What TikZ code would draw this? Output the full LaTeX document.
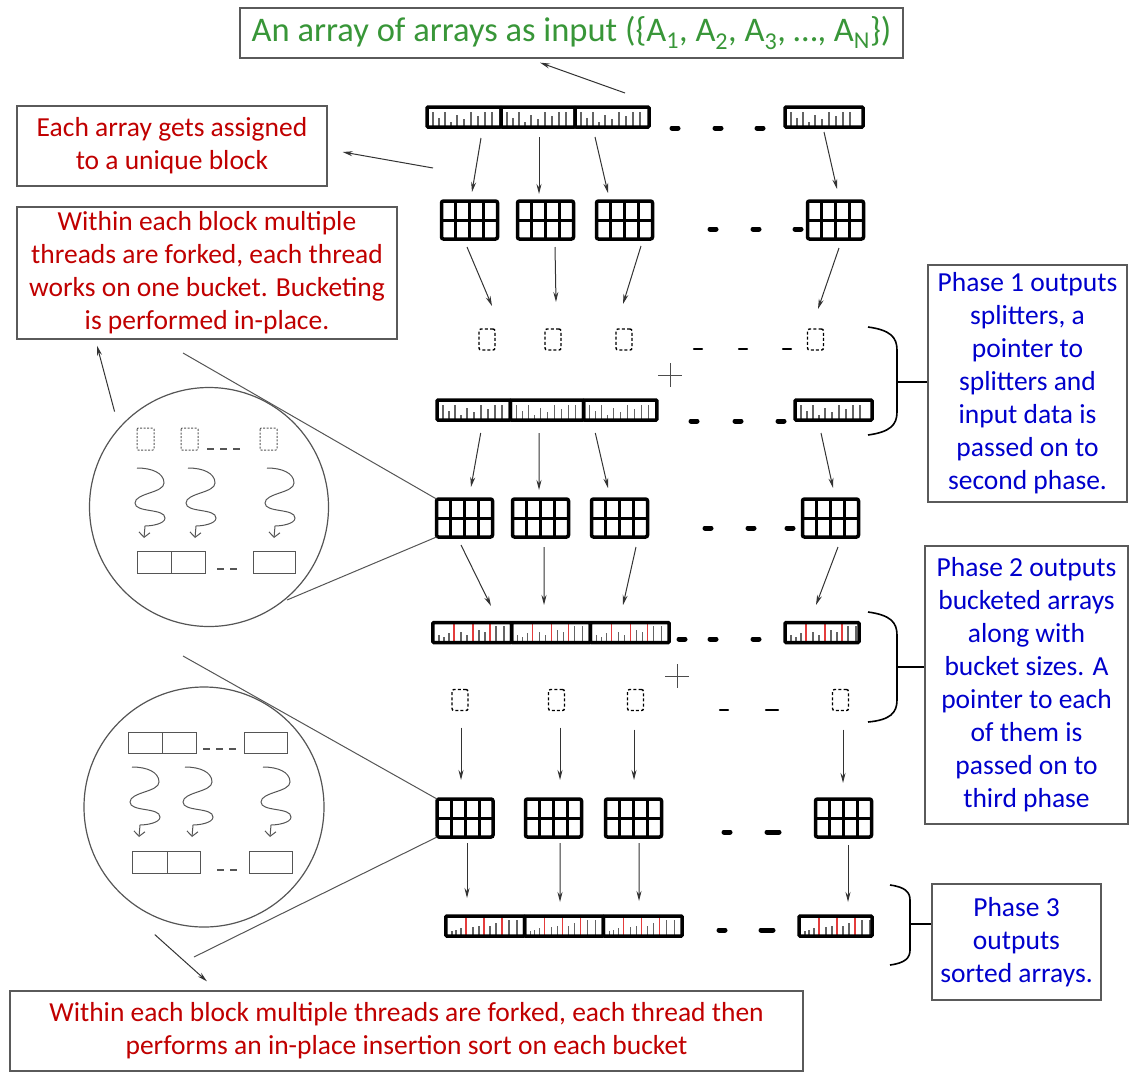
\documentclass[tikz,border=0pt]{standalone}
\usepackage{fontspec}
\setmainfont{Carlito}
\usepackage{xcolor}
\usetikzlibrary{positioning, calc, arrows.meta, shapes.geometric}

\definecolor{notered}{RGB}{192,0,0}
\definecolor{noteblue}{RGB}{0,0,204}
\definecolor{notegreen}{RGB}{56,150,56}
\definecolor{frame}{RGB}{90,90,90}
\definecolor{lensgray}{RGB}{85,85,85}
\definecolor{tickgray}{RGB}{100,100,100}
\definecolor{cutred}{RGB}{228,60,60}

\newcommand\notefont{\fontsize{27.5}{33}\selectfont}
\newcommand\titlefont{\fontsize{34.5}{40}\selectfont}

% tick lists: position/height/colour
\def\rawticks{6/15/tickgray, 12/9/tickgray, 18/15/tickgray, 24/5/tickgray, 30/12/tickgray, 37/8/tickgray, 44/15/tickgray, 51/11/tickgray, 58/15/tickgray, 65/15/tickgray}
\def\bktticks{6/8/tickgray, 11/6/tickgray, 16/10/tickgray, 21/22/cutred, 28/11/tickgray, 34/8/tickgray, 40/22/cutred, 46/13/tickgray, 52/11/tickgray, 57/22/cutred, 63/17/tickgray, 71/17/tickgray}
\def\srtticks{6/5/tickgray, 10/6/tickgray, 15/8/tickgray, 20/22/cutred, 27/9/tickgray, 33/10/tickgray, 38/22/cutred, 44/10/tickgray, 50/13/tickgray, 56/22/cutred, 63/16/tickgray, 71/16/tickgray}

% one thread: wavy arrow going down
\newcommand\wave[2]{\draw[wavy] (#1,#2) .. controls +(15,0) and +(0,-10) .. ++(27,15) .. controls +(0,10) and +(0,-10) .. ++(-29,20) .. controls +(0,10) and +(0,-10) .. ++(30,15) .. controls +(0,6) and +(6,0) .. ++(-20,8) -- ++(-1,12);}

\begin{document}
\begin{tikzpicture}
[x=1pt, y=-1pt,
 >={Stealth[length=10pt,width=5pt]},
 arr/.style={->, line width=1pt, draw=black!80},
 seg/.style={draw, line width=3.5pt, outer sep=0pt, inner sep=0pt,
   minimum height=20pt, rounded corners=1pt,
   path picture={\foreach \p/\h/\tc in #1
     {\draw[\tc, line width=1.2pt] ($(path picture bounding box.south west)+(\p,0)$) -- ++(0,-\h);}}},
 blk/.style={draw, line width=3.5pt, outer sep=0pt, inner sep=0pt,
   minimum width=56pt, minimum height=38pt, rounded corners=2pt,
   path picture={
     \foreach \f in {0.25,0.5,0.75}
       {\draw[line width=3pt] ($(path picture bounding box.south west)!\f!(path picture bounding box.south east)$) -- ($(path picture bounding box.north west)!\f!(path picture bounding box.north east)$);}
     \draw[line width=3pt] (path picture bounding box.west) -- (path picture bounding box.east);}},
 bkt/.style={draw, line width=1.4pt, dash pattern=on 3pt off 2.2pt, outer sep=0pt,
   minimum width=16pt, minimum height=21pt, inner sep=0pt, rounded corners=2pt},
 note/.style={draw=frame, line width=1.3pt, align=center, inner sep=0pt, font=\notefont},
 gapmark/.style={line width=5pt, line cap=round},
 thinmark/.style={line width=2.4pt, line cap=round},
 brace/.style={line width=1.6pt},
 lens/.style={draw=lensgray, line width=1.2pt, inner sep=0pt},
 zoomline/.style={draw=lensgray, line width=1pt},
 wavy/.style={draw=lensgray, line width=1pt, -{Straight Barb[length=5pt,width=11pt]}},
 cell/.style={draw=lensgray, line width=1pt},
 gapline/.style={draw=lensgray, line width=1.2pt, dash pattern=on 7pt off 6pt},
]
\useasboundingbox (0,0) rectangle (1130,1072);

% text boxes
\node[note, text=notegreen, font=\titlefont, minimum width=663, minimum height=50] (title) at (571.5,33)
  {An array of arrays as input (\{A\textsubscript{1}, A\textsubscript{2}, A\textsubscript{3}, …, A\textsubscript{N}\})};
\node[note, text=notered, minimum width=310, minimum height=80] (red1) at (172,146)
  {Each array gets assigned\\to a unique block};
\node[note, text=notered, minimum width=380, minimum height=132] (red2) at (207,273)
  {Within each block multiple\\threads are forked, each thread\\works on one bucket. Bucketing\\is performed in-place.};
\node[note, text=noteblue, minimum width=199, minimum height=237] (p1) at (1027.5,383.5)
  {Phase 1 outputs\\splitters, a\\pointer to\\splitters and\\input data is\\passed on to\\second phase.};
\node[note, text=noteblue, minimum width=203, minimum height=278] (p2) at (1026.5,685)
  {Phase 2 outputs\\bucketed arrays\\along with\\bucket sizes. A\\pointer to each\\of them is\\passed on to\\third phase};
\node[note, text=noteblue, minimum width=169, minimum height=116] (p3) at (1016.5,942)
  {Phase 3\\outputs\\sorted arrays.};
\node[note, text=notered, minimum width=793, minimum height=80] (red3) at (406.5,1031)
  {Within each block multiple threads are forked, each thread then\\performs an in-place insertion sort on each bucket};

% row 1: input arrays
\node[seg=\rawticks, minimum width=74] (r1a) at (464,117) {};
\node[seg=\rawticks, minimum width=74, right=0pt of r1a] (r1b) {};
\node[seg=\rawticks, minimum width=74, right=0pt of r1b] (r1c) {};
\node[seg=\rawticks, minimum width=78] (r1n) at (824,117) {};
\foreach \x in {675,718,760} \draw[gapmark] (\x-3,128) -- (\x+3,128);

% row 2: blocks
\node[blk] (b2a) at (469.5,220) {};
\node[blk] (b2b) at (545.5,220) {};
\node[blk] (b2c) at (624.5,220) {};
\node[blk] (b2n) at (835.5,220) {};
\foreach \x in {713,756,798} \draw[gapmark] (\x-3,229) -- (\x+3,229);

% row 3: splitters
\node[bkt] (s3a) at (487,339.5) {};
\node[bkt] (s3b) at (553,339.5) {};
\node[bkt] (s3c) at (624,339.5) {};
\node[bkt] (s3n) at (815.5,339.5) {};
\foreach \x in {698,743,787} \draw[thinmark] (\x-4,349) -- (\x+4,349);
\draw[line width=1pt, black!70] (658,375) -- (682,375) (670,363) -- (670,387);

% row 4: input arrays again
\node[seg=\rawticks, minimum width=73.3] (r4a) at (473.7,410) {};
\node[seg=\rawticks, minimum width=73.3, right=0pt of r4a] (r4b) {};
\node[seg=\rawticks, minimum width=73.3, right=0pt of r4b] (r4c) {};
\node[seg=\rawticks, minimum width=77] (r4n) at (833.5,410) {};
\foreach \x in {694,738,781} \draw[gapmark] (\x-3,421) -- (\x+3,421);

% row 5: blocks
\node[blk] (b5a) at (464.5,518) {};
\node[blk] (b5b) at (540.5,518) {};
\node[blk] (b5c) at (619.5,518) {};
\node[blk] (b5n) at (830.5,518) {};
\foreach \x in {708,751,790} \draw[gapmark] (\x-3,528) -- (\x+3,528);

% row 6: bucketed arrays
\node[seg=\bktticks, minimum width=78.7] (r6a) at (472.3,632.5) {};
\node[seg=\bktticks, minimum width=78.7, right=0pt of r6a] (r6b) {};
\node[seg=\bktticks, minimum width=78.7, right=0pt of r6b] (r6c) {};
\node[seg=\bktticks, minimum width=74] (r6n) at (822,632.5) {};
\foreach \x in {682,713,756} \draw[gapmark] (\x-3,639) -- (\x+3,639);
\draw[line width=1pt, black!70] (665,676) -- (689,676) (677,664) -- (677,688);

% row 7: bucket sizes
\node[bkt] (s7a) at (460,700) {};
\node[bkt] (s7b) at (556.5,700) {};
\node[bkt] (s7c) at (635.5,700) {};
\node[bkt] (s7n) at (840.5,700) {};
\draw[thinmark] (720,710) -- (728,710);
\draw[thinmark] (766,710) -- (778,710);

% row 8: blocks
\node[blk] (b8a) at (465,818) {};
\node[blk] (b8b) at (553.5,818) {};
\node[blk] (b8c) at (633.5,818) {};
\node[blk] (b8n) at (843.5,818) {};
\draw[gapmark] (724,832) -- (730,832);
\draw[gapmark] (767,832) -- (779,832);

% row 9: sorted arrays
\node[seg=\srtticks, minimum width=78.7] (r9a) at (485.3,926) {};
\node[seg=\srtticks, minimum width=78.7, right=0pt of r9a] (r9b) {};
\node[seg=\srtticks, minimum width=78.7, right=0pt of r9b] (r9c) {};
\node[seg=\srtticks, minimum width=73] (r9n) at (835.5,926) {};
\draw[gapmark] (719,930) -- (725,930);
\draw[gapmark] (761,930) -- (773,930);

% arrows between rows
\draw[arr] ($(r1a.south)+(17,11)$) -- ($(b2a.north)+(2.5,-9)$);
\draw[arr] ($(r1b.south)+(1,10)$) -- ($(b2b.north)+(-6.5,-7)$);
\draw[arr] ($(r1c.south)+(-17,10)$) -- ($(b2c.north)+(-16.5,-8)$);
\draw[arr] ($(r1n.south)+(0,5)$) -- ($(b2n.north)+(1.5,-12)$);

\draw[arr] ($(b2a.south)+(-2.5,8)$) -- ($(s3a.north)+(5,-23)$);
\draw[arr] ($(b2b.south)+(9.5,8)$) -- ($(s3b.north)+(3,-27)$);
\draw[arr] ($(b2c.south)+(16.5,7)$) -- ($(s3c.north)+(-1,-25)$);
\draw[arr] ($(b2n.south)+(3.5,9)$) -- ($(s3n.north)+(2.5,-20)$);

\draw[arr] ($(r4a.south)+(7,13)$) -- ($(b5a.north)+(6.5,-12)$);
\draw[arr] ($(r4b.south)+(-8,13)$) -- ($(b5b.north)+(-1.5,-9)$);
\draw[arr] ($(r4c.south)+(-25,13)$) -- ($(b5c.north)+(-11.5,-11)$);
\draw[arr] ($(r4n.south)+(-12.5,13)$) -- ($(b5n.north)+(2.5,-11)$);

\draw[arr] ($(b5a.south)+(-3.5,8)$) -- ($(r6a.north)+(18.7,-16.5)$);
\draw[arr] ($(b5b.south)+(3.5,10)$) -- ($(r6b.north)+(-7,-17.5)$);
\draw[arr] ($(b5c.south)+(16.5,10)$) -- ($(r6c.north)+(-6.7,-17.5)$);
\draw[arr] ($(b5n.south)+(7.5,10)$) -- ($(r6n.north)+(-6,-17.5)$);

\draw[arr] ($(s7a.south)+(1,17)$) -- ($(b8a.north)+(-4,-19)$);
\draw[arr] ($(s7b.south)+(3.5,17)$) -- ($(b8b.north)+(6.5,-19)$);
\draw[arr] ($(s7c.south)+(-1.5,19)$) -- ($(b8c.north)+(0.5,-19)$);
\draw[arr] ($(s7n.south)+(2.5,19)$) -- ($(b8n.north)+(-0.5,-16)$);

\draw[arr] ($(b8a.south)+(2,6)$) -- ($(r9a.north)+(-18.3,-18)$);
\draw[arr] ($(b8b.south)+(6.5,6)$) -- ($(r9b.north)+(-4,-14)$);
\draw[arr] ($(b8c.south)+(5.5,6)$) -- ($(r9c.north)+(-3.7,-15)$);
\draw[arr] ($(b8n.south)+(4.5,8)$) -- ($(r9n.north)+(12.5,-14)$);

% arrows to the notes
\draw[arr] ($(r1c.north)+(13,-14)$) -- ($(title.south)+(-31.5,4)$);
\draw[arr] ($(r1a.south west)+(6,41)$) -- ($(red1.east)+(15,6)$);

% braces
\draw[brace] (868,327) .. controls (890,330) and (897,337) .. (897,350) -- (897,412) .. controls (897,425) and (890,432) .. (868,435);
\coordinate (k1) at (897,382);
\draw[brace] (k1) -- (k1 -| p1.west);
\draw[brace] (868,612) .. controls (890,615) and (897,622) .. (897,635) -- (897,700) .. controls (897,713) and (890,720) .. (868,722);
\coordinate (k2) at (897,667);
\draw[brace] (k2) -- (k2 -| p2.west);
\draw[brace] (890,885) .. controls (905,887) and (910,892) .. (910,900) -- (910,950) .. controls (910,958) and (905,963) .. (890,965);
\coordinate (k3) at (910,924);
\draw[brace] (k3) -- (k3 -| p3.west);

% lens 1: bucketing inside a block
\node[lens, circle, minimum size=239] (lens1) at (209,507) {};
\coordinate (z1a) at (183,353);
\coordinate (z1b) at (287,600);
\draw[zoomline] (z1a) -- (b5a.north west);
\draw[zoomline] (z1b) -- (b5a.south west);
\draw[arr] ($(lens1.135)+(-9.5,-10.5)$) -- ($(red2.south)+(-110,6)$);
\foreach \x in {137,181,260} \draw[cell, dash pattern=on 2pt off 1.5pt, rounded corners=1pt] (\x,428) rectangle ++(17,22);
\draw[gapline] (207,449) -- (243,449);
\foreach \x in {137,188,267} \wave{\x}{468}
\draw[cell] (137,551) rectangle (171,573) (171,551) rectangle (205,573) (253,551) rectangle (295,573);
\draw[gapline] (217,569) -- (243,569);

% lens 2: insertion sort inside a block
\node[lens, circle, minimum size=240] (lens2) at (204,807) {};
\coordinate (z2a) at (183,656);
\coordinate (z2b) at (194,957);
\draw[zoomline] (z2a) -- (b8a.north west);
\draw[zoomline] (z2b) -- (b8a.south west);
\draw[arr] ($(lens2.-111)+(-6,15)$) -- ($(red3.north)+(-199.5,-9)$);
\draw[cell] (128,732) rectangle (162,753) (162,732) rectangle (196,753) (244,732) rectangle (287,753);
\draw[gapline] (203,749) -- (240,749);
\foreach \x in {132,185,263} \wave{\x}{767}
\draw[cell] (132,851) rectangle (167,873) (167,851) rectangle (200,873) (249,851) rectangle (292,873);
\draw[gapline] (217,870) -- (242,870);
\end{tikzpicture}
\end{document}
